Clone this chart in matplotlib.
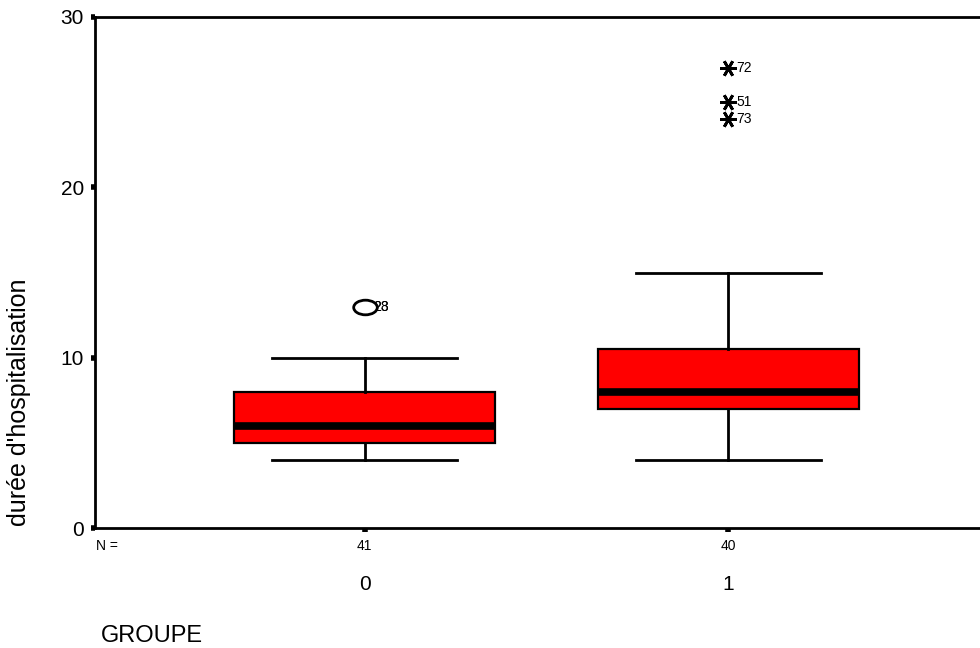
import matplotlib
matplotlib.use("Agg")
import matplotlib.pyplot as plt
import matplotlib.transforms as mtransforms
from matplotlib.path import Path
import numpy as np

plt.rcParams['font.family'] = ['Liberation Sans', 'DejaVu Sans']

# Data
groups = ["0", "1"]
counts = [41, 40]
q1 = [5, 7]
medians = [6, 8]
q3 = [8, 10.5]
whislo = [4, 4]
whishi = [10, 15]
outliers = [[13], []]
outlier_labels = [["23", "28"], []]
extremes = [[], [27, 25, 24]]
extreme_labels = [[], ["72", "51", "73"]]
yticks = [0, 10, 20, 30]

fig = plt.figure(figsize=(9.8, 6.48), dpi=100)
ax = fig.add_axes([95/980, 1-528/648, 1-95/980+0.002, (528-17)/648])

positions = list(range(len(groups)))
stats = []
for i in positions:
    stats.append(dict(med=medians[i], q1=q1[i], q3=q3[i], whislo=whislo[i],
                      whishi=whishi[i], fliers=[], label=groups[i]))

ax.bxp(stats, positions=positions, widths=0.719, patch_artist=True,
       showfliers=False,
       boxprops=dict(facecolor='#ff0000', edgecolor='black', linewidth=1.6),
       medianprops=dict(color='black', linewidth=5.5, solid_capstyle='butt'),
       whiskerprops=dict(color='black', linewidth=2),
       capprops=dict(color='black', linewidth=2),
       capwidths=0.507)

# elliptical open marker (SPSS style)
circ = Path.unit_circle()
ellipse = Path(circ.vertices * np.array([1.0, 0.62]), circ.codes)

for i in positions:
    for v in outliers[i]:
        ax.plot([i], [v], marker=ellipse, ms=17, mfc='white', mec='black', mew=2,
                linestyle='none', zorder=5)
    for lab in outlier_labels[i]:
        for v in outliers[i][:1]:
            ax.annotate(lab, (i, v), xytext=(6, 0), textcoords='offset points',
                        fontsize=10, va='center', ha='left')
    for v, lab in zip(extremes[i], extreme_labels[i]):
        ax.plot([i], [v], marker=(6, 2, 90), ms=12, mec='black', mew=2,
                linestyle='none', zorder=5)
        ax.annotate(lab, (i, v), xytext=(6, 0), textcoords='offset points',
                    fontsize=10, va='center', ha='left')

ax.set_xlim(-0.741, 1.697)
ax.set_ylim(0, 30)
ax.set_yticks(yticks)
ax.set_yticklabels([str(t) for t in yticks], fontsize=15)
ax.set_xticks(positions)
ax.set_xticklabels([])
ax.tick_params(axis='both', direction='out', length=3, width=4, color='black', pad=5)

for s in ['left', 'bottom', 'top']:
    ax.spines[s].set_linewidth(2)
ax.spines['right'].set_visible(False)

trans = mtransforms.blended_transform_factory(ax.transData, fig.transFigure)
for i in positions:
    ax.text(i, 1-546/648, str(counts[i]), transform=trans, fontsize=10,
            ha='center', va='center')
    ax.text(i, 1-584/648, groups[i], transform=trans, fontsize=15,
            ha='center', va='center')
fig.text(96/980, 1-546/648, "N =", fontsize=10, ha='left', va='center')
fig.text(101/980, 1-636/648, "GROUPE", fontsize=17, ha='left', va='center')
fig.text(19/980, 1-402/648, "durée d'hospitalisation", fontsize=18,
         rotation=90, ha='center', va='center')

fig.savefig("out.png", dpi=100)
